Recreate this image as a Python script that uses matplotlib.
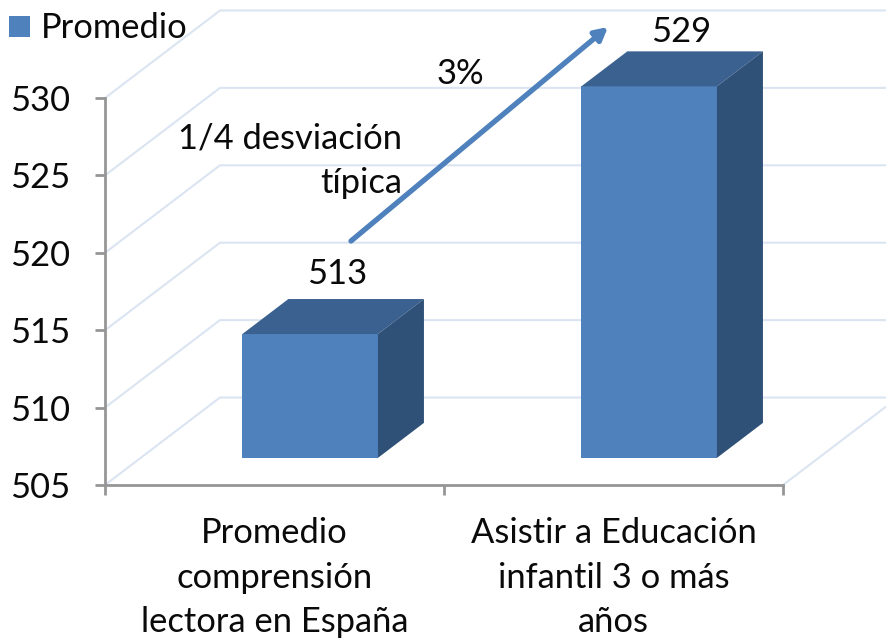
import matplotlib
matplotlib.use("Agg")
import matplotlib.pyplot as plt
from matplotlib.patches import Polygon, Rectangle

categories = ["Promedio\ncomprensión\nlectora en España", "Asistir a Educación\ninfantil 3 o más\naños"]
values = [513, 529]
y_ticks = [505, 510, 515, 520, 525, 530]
series_name = "Promedio"

W, H = 886, 639
plt.rcParams['font.family'] = ['Lato', 'DejaVu Sans']
FS = 24.8
TXT = "#0a0a0a"
fig = plt.figure(figsize=(W / 100, H / 100), dpi=100)
L, R, T, B = 105, 783, 98, 485
ax = fig.add_axes([L / W, 1 - B / H, (R - L) / W, (B - T) / H])
ax.set_xlim(0, 2)
ax.set_ylim(505, 530)

# oblique projection: depth 1 = back wall
DX = 115 / 339
DY = 87.5 / (387 / 25)
def proj(x, y, d):
    return (x + d * DX, y + d * DY)

GRID = "#dbe5f2"
for yt in y_ticks:
    pts = [proj(0, yt, 0), proj(0, yt, 1), proj(2, yt, 1)]
    ax.plot(*zip(*pts), color=GRID, lw=1.5, clip_on=False, zorder=1, solid_joinstyle='round')
ax.plot(*zip(proj(2, 505, 0), proj(2, 505, 1)), color=GRID, lw=1.5, clip_on=False, zorder=1)

FRONT, TOP, SIDE = "#4f81bd", "#3a6190", "#2f5177"
D0, D1 = 0.31, 0.71
BW = 0.4
label_dx = [-19, -14]
label_dy = [9, 3]
for i, v in enumerate(values):
    x0, x1 = i + 0.5 - BW / 2, i + 0.5 + BW / 2
    ax.add_patch(Polygon([proj(x0, 505, D0), proj(x1, 505, D0), proj(x1, v, D0), proj(x0, v, D0)],
                         fc=FRONT, ec='none', clip_on=False, zorder=3))
    ax.add_patch(Polygon([proj(x0, v, D0), proj(x1, v, D0), proj(x1, v, D1), proj(x0, v, D1)],
                         fc=TOP, ec='none', clip_on=False, zorder=3))
    ax.add_patch(Polygon([proj(x1, 505, D0), proj(x1, 505, D1), proj(x1, v, D1), proj(x1, v, D0)],
                         fc=SIDE, ec='none', clip_on=False, zorder=3))
    ax.annotate(str(v), xy=proj(i + 0.5, v, D1), xytext=(label_dx[i], label_dy[i]), textcoords='offset pixels',
                ha='center', va='bottom', fontsize=FS, color=TXT, zorder=5, annotation_clip=False)

for s in ['top', 'right']:
    ax.spines[s].set_visible(False)
for s in ['left', 'bottom']:
    ax.spines[s].set_color("#969696")
    ax.spines[s].set_linewidth(2)
ax.set_yticks(y_ticks)
ax.set_yticklabels([str(t) for t in y_ticks], fontsize=FS, color=TXT)
ax.set_xticks([0, 1, 2])
ax.set_xticklabels(["", "", ""])
ax.tick_params(axis='both', color="#969696", width=2, length=7.5)
ax.tick_params(axis='y', pad=17.5)
for i, c in enumerate(categories):
    ax.annotate(c, xy=(i + 0.5, 505), xytext=(0, -32), textcoords='offset pixels',
                ha='center', va='top', fontsize=FS, color=TXT, linespacing=1.49, annotation_clip=False)

def px(x, y):
    return (x / W, 1 - y / H)

fig.patches.append(Rectangle(px(9, 37), 21 / W, 21 / H, transform=fig.transFigure, fc=FRONT, ec='none'))
fig.text(*px(41, 28), series_name, fontsize=FS, color=TXT, va='center', ha='left')
fig.text(*px(460, 74), "3%", fontsize=FS, color=TXT, va='center', ha='center')
fig.text(*px(402, 160.5), "1/4 desviación\ntípica", fontsize=FS, color=TXT, va='center', ha='right',
         multialignment='right', linespacing=1.5)
ax.annotate("", xy=px(608, 27), xycoords='figure fraction', xytext=px(351, 241), textcoords='figure fraction',
            arrowprops=dict(arrowstyle='-|>,head_length=0.75,head_width=0.4', lw=3.8, color=FRONT,
                            shrinkA=0, shrinkB=0), zorder=6, annotation_clip=False)

fig.savefig("out.png", dpi=100)
